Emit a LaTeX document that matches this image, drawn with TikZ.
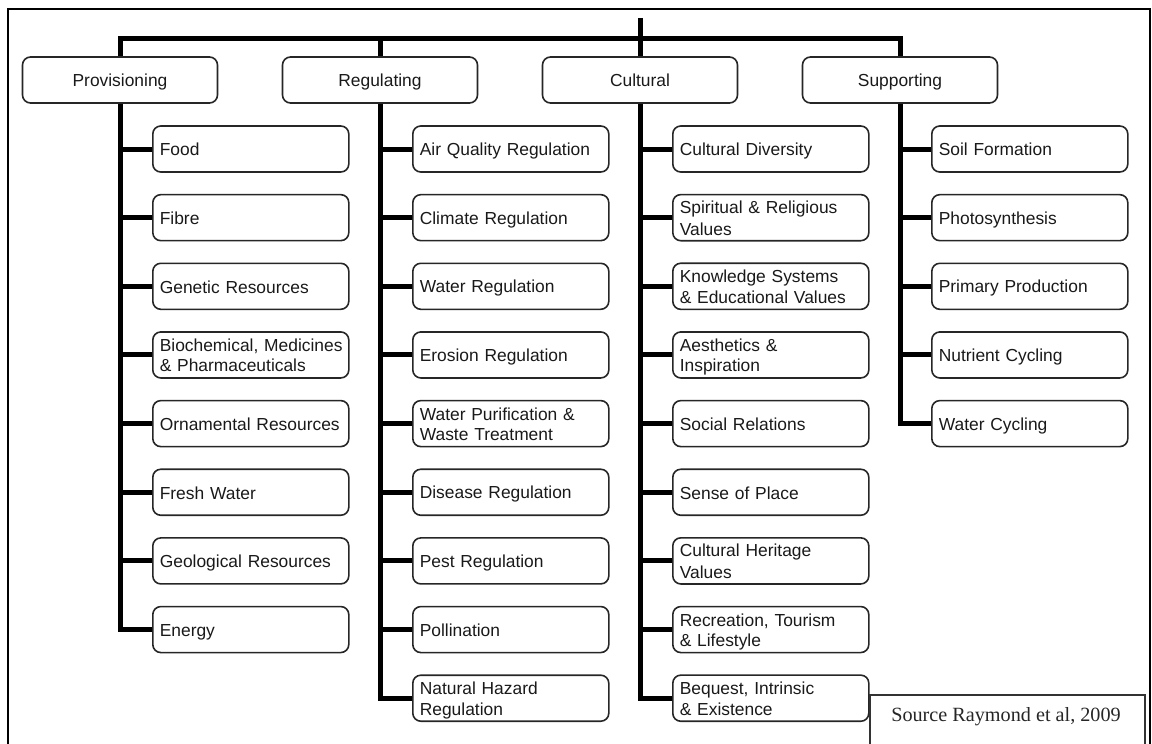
\documentclass[tikz,border=0pt]{standalone}
\usepackage{fontspec}
\setmainfont{Liberation Sans}
\newfontfamily\sourcefont{Liberation Serif}
\usetikzlibrary{positioning}
\newcommand\itemstrut{\rule[-3.5pt]{0pt}{20.5pt}}

\begin{document}
\begin{tikzpicture}[x=1pt, y=-1pt,
  catbox/.style={rectangle, draw=black!85, line width=1.6pt, rounded corners=8pt,
    minimum width=195pt, minimum height=46pt, text=black!90,
    text height=17pt, text depth=3.5pt,
    font=\fontsize{17.4}{20.5}\selectfont},
  itembox/.style={rectangle, draw=black!85, line width=1.6pt, rounded corners=8pt,
    text width=182pt, inner xsep=7pt, inner ysep=2pt, minimum height=46pt,
    align=left, anchor=west, text=black!90,
    execute at begin node=\itemstrut, execute at end node=\itemstrut,
    font=\fontsize{17.4}{20.5}\selectfont},
  trunk/.style={line width=5pt, line join=miter}]
  \useasboundingbox (0,0) rectangle (1152,744);

  % outer frame, cut off at the bottom
  \draw[line width=2pt] (8,760) -- (8,9) -- (1150,9) -- (1150,760);

  % the four categories
  \node[catbox] (prov) at (120,80) {Provisioning};
  \node[catbox] (reg) at (380,80) {Regulating};
  \node[catbox] (cult) at (640,80) {Cultural};
  \node[catbox] (supp) at (900,80) {Supporting};

  \coordinate (top) at (640,18);
  \coordinate (bus) at (640,38);
  \draw[trunk] (top) -- (cult.north);
  \draw[trunk] (prov.north) |- (bus) -| (supp.north);
  \draw[trunk] (reg.north |- bus) -- (reg.north);

  % provisioning services
  \foreach \txt [count=\i] in {Food, Fibre, Genetic Resources,
      {\mbox{Biochemical, Medicines}\\\& Pharmaceuticals}, Ornamental Resources,
      Fresh Water, Geological Resources, Energy} {
    \node[itembox] (prov\i) at (152, 80.35+68.65*\i) {\txt};
  }
  \draw[trunk] (prov.south) |- (prov8.west);
  \foreach \i in {1,...,7}
    \draw[trunk] (prov.south |- prov\i.west) -- (prov\i.west);

  % regulating services
  \foreach \txt [count=\i] in {Air Quality Regulation, Climate Regulation,
      Water Regulation, Erosion Regulation,
      {Water Purification \&\\Waste Treatment}, Disease Regulation,
      Pest Regulation, Pollination, {Natural Hazard\\Regulation}} {
    \node[itembox] (reg\i) at (412, 80.35+68.65*\i) {\txt};
  }
  \draw[trunk] (reg.south) |- (reg9.west);
  \foreach \i in {1,...,8}
    \draw[trunk] (reg.south |- reg\i.west) -- (reg\i.west);

  % cultural services
  \foreach \txt [count=\i] in {Cultural Diversity,
      {Spiritual \& Religious\\Values}, {Knowledge Systems\\\& Educational Values},
      {Aesthetics \&\\Inspiration}, Social Relations, Sense of Place,
      {Cultural Heritage\\Values}, {Recreation, Tourism\\\& Lifestyle},
      {Bequest, Intrinsic\\\& Existence}} {
    \node[itembox] (cult\i) at (672, 80.35+68.65*\i) {\txt};
  }
  \draw[trunk] (cult.south) |- (cult9.west);
  \foreach \i in {1,...,8}
    \draw[trunk] (cult.south |- cult\i.west) -- (cult\i.west);

  % supporting services
  \foreach \txt [count=\i] in {Soil Formation, Photosynthesis,
      Primary Production, Nutrient Cycling, Water Cycling} {
    \node[itembox] (supp\i) at (931, 80.35+68.65*\i) {\txt};
  }
  \draw[trunk] (supp.south) |- (supp5.west);
  \foreach \i in {1,...,4}
    \draw[trunk] (supp.south |- supp\i.west) -- (supp\i.west);

  % source note
  \draw[line width=1.2pt, black!80] (870,760) -- (870,695) -- (1145,695) -- (1145,760);
  \node[font=\sourcefont\fontsize{20.2}{24}\selectfont, text=black!85] (source)
    at (1006,717) {Source Raymond et al, 2009};
\end{tikzpicture}
\end{document}
